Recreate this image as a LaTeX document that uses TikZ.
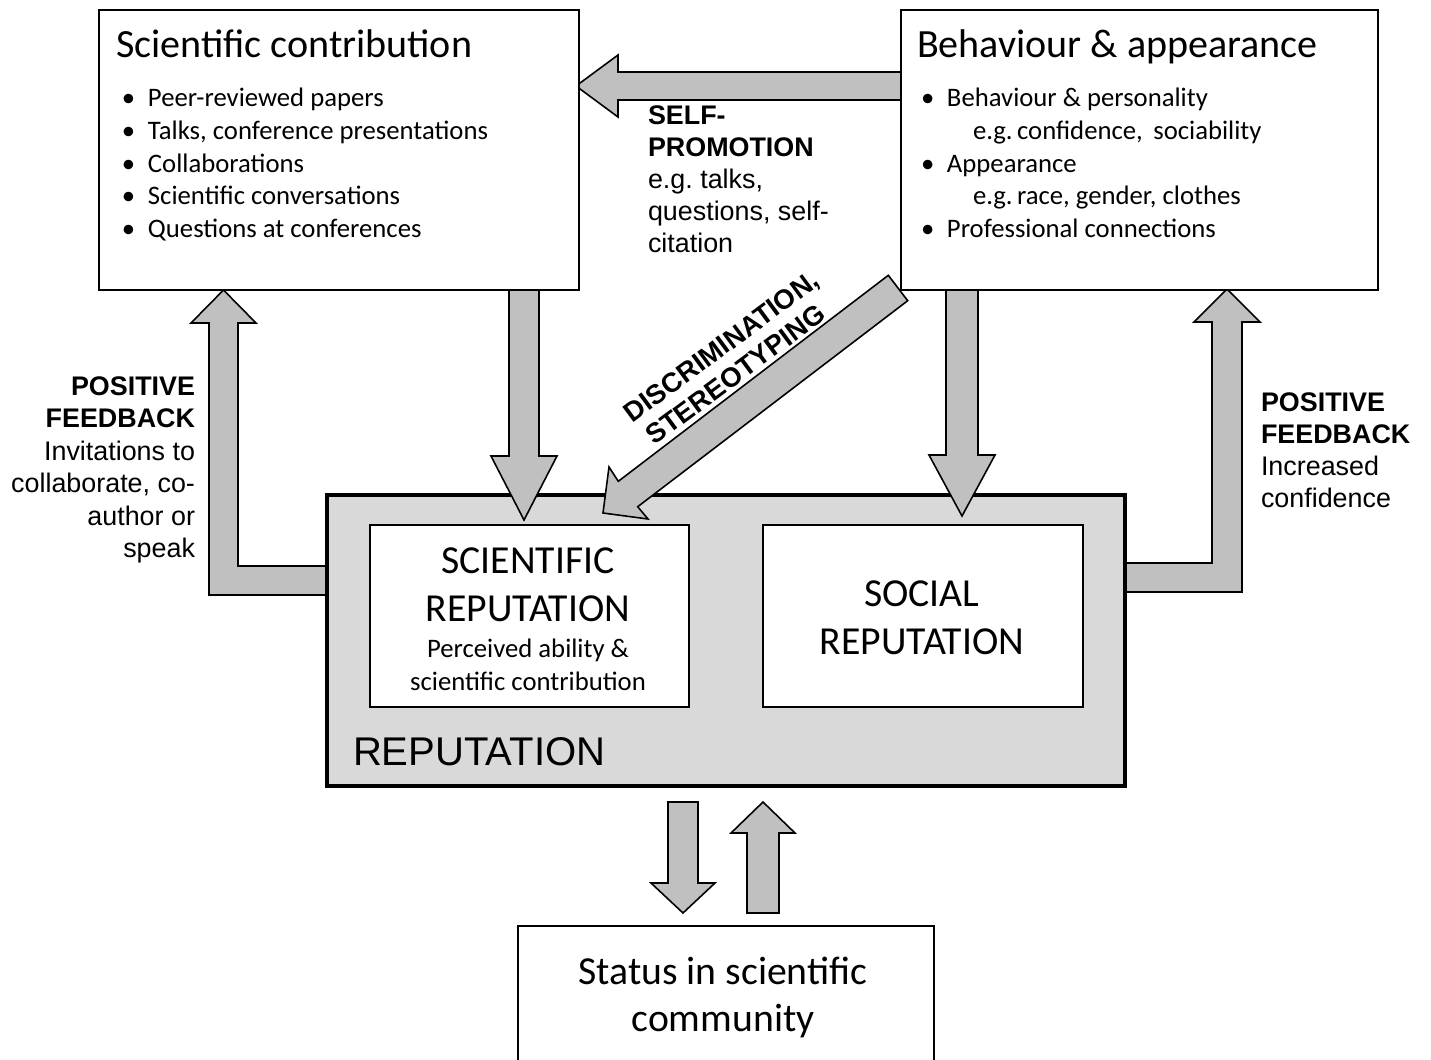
\documentclass[tikz,border=0pt]{standalone}
\usepackage{fontspec}
\setmainfont{Carlito}
\newfontfamily\arialf{Liberation Sans}
\definecolor{arrowgray}{HTML}{C0C0C0}
\definecolor{repgray}{HTML}{D9D9D9}
\newcommand\myFtitle{\fontsize{22.8}{27}\selectfont}
\newcommand\myFbul{\fontsize{15.2}{18}\selectfont}
\newcommand\myFlab{\arialf\fontsize{15.3}{18}\selectfont}
\newcommand\myFbig{\fontsize{22.6}{27}\selectfont}
\newcommand\myFrep{\arialf\fontsize{22.8}{27}\selectfont}
\newcommand\myBul{\makebox[0.64cm][l]{\hspace{0.12cm}\textbullet}}
\begin{document}
\begin{tikzpicture}[x=0.02cm,y=-0.02cm,
  box/.style={draw=black,fill=white,line width=1.1pt,inner sep=0pt},
  blockarrow/.style={draw=black,fill=arrowgray,line width=0.9pt,line join=miter},
  txt/.style={inner sep=0pt,outer sep=0pt},
  bultxt/.style={txt,anchor=base west,font=\myFbul},
  labtxt/.style={txt,font=\myFlab},
  disctxt/.style={txt,anchor=base,rotate=36.5,font=\arialf\bfseries\fontsize{15.6}{16}\selectfont}]
\useasboundingbox (0,0) rectangle (1431,1059);
\fill[white] (0,0) rectangle (1431,1059);

% feedback arrows (L-shaped)
\draw[blockarrow] (327,566) -- (238,566) -- (238,323) -- (256,323) -- (223.5,290)
  -- (191,323) -- (209,323) -- (209,595) -- (327,595) -- cycle;
\draw[blockarrow] (1125,563) -- (1212,563) -- (1212,322) -- (1194,322) -- (1227,289)
  -- (1260,322) -- (1242,322) -- (1242,592) -- (1125,592) -- cycle;

% reputation container
\node[box,fill=repgray,line width=2.3pt,minimum width=15.96cm,minimum height=5.82cm] (rep) at (726,640.5) {};

% self-promotion arrow
\draw[blockarrow] (901,72) -- (618,72) -- (618,55) -- (576,86) -- (618,117) -- (618,100) -- (901,100) -- cycle;
% down arrows
\draw[blockarrow] (509,290) -- (539,290) -- (539,456) -- (557,456) -- (524,520) -- (491,456) -- (509,456) -- cycle;
\draw[blockarrow] (946,290) -- (978,290) -- (978,455) -- (995,455) -- (962,516) -- (929,455) -- (946,455) -- cycle;
% diagonal arrow
\draw[blockarrow] (907.7,300.7) -- (637.7,506.7) -- (648,519) -- (603,513) -- (609,467) -- (618.3,481.3) -- (888.3,275.3) -- cycle;

% top boxes
\node[box,minimum width=9.6cm,minimum height=5.6cm] (sc) at (339,150) {};
\node[box,minimum width=9.54cm,minimum height=5.6cm] (ba) at (1139.5,150) {};

% inner boxes
\node[box,minimum width=6.38cm,minimum height=3.64cm] (srep) at (529.5,616) {};
\node[box,minimum width=6.4cm,minimum height=3.64cm] (soc) at (923,616) {};

% bottom arrows
\draw[blockarrow] (668,802) -- (698,802) -- (698,883) -- (715,883) -- (683,913) -- (651,883) -- (668,883) -- cycle;
\draw[blockarrow] (747,913) -- (747,833) -- (731,833) -- (763,802) -- (795,833) -- (779,833) -- (779,913) -- cycle;

% status box
\node[box,minimum width=8.32cm,minimum height=3.2cm] (status) at (726,1006) {};

% texts: scientific contribution
\node[txt,anchor=base west,font=\myFtitle] (sct) at (116,57) {Scientific contribution};
\node[bultxt] (sc1) at (116,106.5) {\myBul Peer-reviewed papers};
\node[bultxt] (sc2) at (116,139.3) {\myBul Talks, conference presentations};
\node[bultxt] (sc3) at (116,172.1) {\myBul Collaborations};
\node[bultxt] (sc4) at (116,204.9) {\myBul Scientific conversations};
\node[bultxt] (sc5) at (116,237.7) {\myBul Questions at conferences};

% behaviour & appearance
\node[txt,anchor=base west,font=\myFtitle] (bat) at (917,57) {Behaviour \& appearance};
\node[bultxt] (ba1) at (915,106.5) {\myBul Behaviour \& personality};
\node[bultxt] (ba2) at (973,139.3) {e.g.\,confidence,\, sociability};
\node[bultxt] (ba3) at (915,172.1) {\myBul Appearance};
\node[bultxt] (ba4) at (973,204.9) {e.g.\,race, gender, clothes};
\node[bultxt] (ba5) at (915,237.7) {\myBul Professional connections};

% self-promotion label
\node[labtxt,anchor=base west,font=\myFlab\bfseries] (sp1) at (648,124) {SELF-};
\node[labtxt,anchor=base west,font=\myFlab\bfseries] (sp2) at (648,156) {PROMOTION};
\node[labtxt,anchor=base west] (sp3) at (648,188) {e.g.\ talks,};
\node[labtxt,anchor=base west] (sp4) at (648,220) {questions, self-};
\node[labtxt,anchor=base west] (sp5) at (648,252) {citation};

% discrimination label
\node[disctxt] (disc1) at (727,354) {DISCRIMINATION,};
\node[disctxt] (disc2) at (741,382) {STEREOTYPING};

% left feedback label
\node[labtxt,anchor=base east,font=\myFlab\bfseries] (lf1) at (195,395) {POSITIVE};
\node[labtxt,anchor=base east,font=\myFlab\bfseries] (lf2) at (195,427) {FEEDBACK};
\node[labtxt,anchor=base east] (lf3) at (195,460) {Invitations to};
\node[labtxt,anchor=base east] (lf4) at (195,492) {collaborate, co-};
\node[labtxt,anchor=base east] (lf5) at (195,525) {author or};
\node[labtxt,anchor=base east] (lf6) at (195,557) {speak};

% right feedback label
\node[labtxt,anchor=base west,font=\myFlab\bfseries] (rf1) at (1261,411) {POSITIVE};
\node[labtxt,anchor=base west,font=\myFlab\bfseries] (rf2) at (1261,443) {FEEDBACK};
\node[labtxt,anchor=base west] (rf3) at (1261,475) {Increased};
\node[labtxt,anchor=base west] (rf4) at (1261,507) {confidence};

% reputation texts
\node[txt,anchor=base,font=\myFbig] (sr1) at (528,573) {SCIENTIFIC};
\node[txt,anchor=base,font=\myFbig] (sr2) at (528,621) {REPUTATION};
\node[txt,anchor=base,font=\myFbul] (sr3) at (528,657) {Perceived ability \&};
\node[txt,anchor=base,font=\myFbul] (sr4) at (528,690) {scientific contribution};
\node[txt,anchor=base,font=\myFbig] (so1) at (922,606) {SOCIAL};
\node[txt,anchor=base,font=\myFbig] (so2) at (922,654) {REPUTATION};
\node[txt,anchor=base west,font=\myFrep] (rept) at (353,765) {REPUTATION};

% status texts
\node[txt,anchor=base,font=\myFbig] (st1) at (723,984) {Status in scientific};
\node[txt,anchor=base,font=\myFbig] (st2) at (723,1031) {community};
\end{tikzpicture}
\end{document}
